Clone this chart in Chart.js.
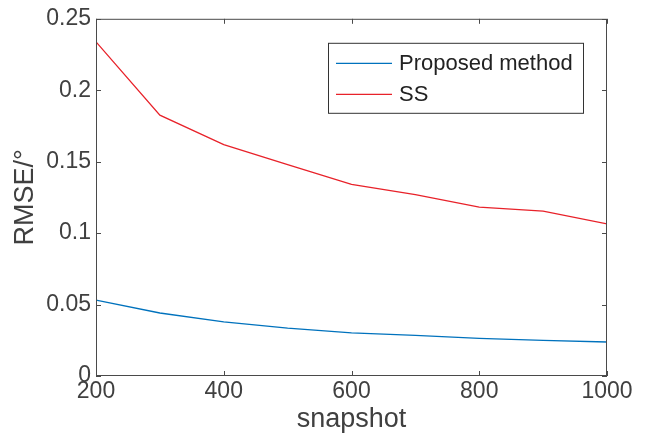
<!DOCTYPE html>
<html>
<head>
<meta charset="utf-8">
<script src="https://cdn.jsdelivr.net/npm/chart.js@4"></script>
<style>
  html, body { margin: 0; padding: 0; background: #fff; }
  #wrap { width: 660px; height: 436px; }
</style>
</head>
<body>
<div id="wrap"><canvas id="rmseChart" width="660" height="436"></canvas></div>
<script>
// values
const snapshots = [200, 300, 400, 500, 600, 700, 800, 900, 1000];
const proposed = [0.0531, 0.0441, 0.0379, 0.0335, 0.0302, 0.0284, 0.0263, 0.0249, 0.0238];
const ss = [0.2339, 0.1826, 0.1620, 0.1480, 0.1341, 0.1270, 0.1182, 0.1154, 0.1064];
const xTicks = [200, 400, 600, 800, 1000];
const yTicks = [0, 0.05, 0.1, 0.15, 0.2, 0.25];

const FONT = '"Liberation Sans", Arial, Helvetica, sans-serif';
const TEXT = '#404040';
const AXIS = '#4a4a4a';

// box around the plot with inward ticks, MATLAB style
const framePlugin = {
    id: 'frame',
    afterDraw(chart) {
        const { ctx, chartArea: a, scales } = chart;
        const len = 5;
        ctx.save();
        ctx.strokeStyle = AXIS;
        ctx.lineWidth = 1;
        ctx.strokeRect(a.left + 0.5, a.top + 0.5, a.right - a.left - 1, a.bottom - a.top - 1);
        ctx.beginPath();
        xTicks.forEach(v => {
            const x = Math.round(scales.x.getPixelForValue(v)) + 0.5;
            ctx.moveTo(x, a.bottom); ctx.lineTo(x, a.bottom - len);
            ctx.moveTo(x, a.top); ctx.lineTo(x, a.top + len);
        });
        yTicks.forEach(v => {
            const y = Math.round(scales.y.getPixelForValue(v)) + 0.5;
            ctx.moveTo(a.left, y); ctx.lineTo(a.left + len, y);
            ctx.moveTo(a.right, y); ctx.lineTo(a.right - len, y);
        });
        ctx.stroke();

        // legend box
        const bw = 255, bh = 70;
        const bx = a.right - 24 - bw, by = a.top + 24;
        ctx.fillStyle = '#fff';
        ctx.fillRect(bx, by, bw, bh);
        ctx.strokeStyle = '#333';
        ctx.strokeRect(bx + 0.5, by + 0.5, bw, bh);
        ctx.font = '22px ' + FONT;
        ctx.textBaseline = 'middle';
        ctx.textAlign = 'left';
        chart.data.datasets.forEach((ds, i) => {
            const y = by + 20 + i * 31;
            ctx.strokeStyle = ds.borderColor;
            ctx.lineWidth = 1.3;
            ctx.beginPath();
            ctx.moveTo(bx + 8, y + 0.5);
            ctx.lineTo(bx + 64, y + 0.5);
            ctx.stroke();
            ctx.fillStyle = '#222';
            ctx.fillText(ds.label, bx + 71, y + 1);
        });
        ctx.restore();
    }
};

new Chart(document.getElementById('rmseChart').getContext('2d'), {
    type: 'line',
    data: {
        labels: snapshots,
        datasets: [
            {
                label: 'Proposed method',
                data: snapshots.map((s, i) => ({ x: s, y: proposed[i] })),
                borderColor: '#0072bd',
                borderWidth: 1.3,
                pointRadius: 0,
                tension: 0,
                fill: false
            },
            {
                label: 'SS',
                data: snapshots.map((s, i) => ({ x: s, y: ss[i] })),
                borderColor: '#e8222a',
                borderWidth: 1.3,
                pointRadius: 0,
                tension: 0,
                fill: false
            }
        ]
    },
    options: {
        responsive: false,
        animation: false,
        layout: { autoPadding: false, padding: { top: 15, right: 53, left: 0, bottom: 0 } },
        plugins: {
            legend: { display: false },
            tooltip: { enabled: false }
        },
        scales: {
            x: {
                type: 'linear',
                min: 200,
                max: 1000,
                afterBuildTicks: scale => { scale.ticks = xTicks.map(v => ({ value: v })); },
                afterFit: scale => { scale.height = 60; },
                grid: { display: false, drawTicks: false },
                border: { display: false },
                ticks: {
                    color: TEXT, padding: 2, maxRotation: 0, font: { family: FONT, size: 23 },
                    callback: v => String(v)
                },
                title: {
                    display: true, text: 'snapshot', color: TEXT,
                    font: { family: FONT, size: 27 }, padding: { top: 0, bottom: 0 }
                }
            },
            y: {
                min: 0,
                max: 0.25,
                afterBuildTicks: scale => { scale.ticks = yTicks.map(v => ({ value: v })); },
                afterFit: scale => { scale.width = 96; },
                grid: { display: false, drawTicks: false },
                border: { display: false },
                ticks: {
                    color: TEXT, padding: 5, font: { family: FONT, size: 23 },
                    callback: v => String(v)
                },
                title: {
                    display: true, text: 'RMSE/°', color: TEXT,
                    font: { family: FONT, size: 27 }, padding: { top: 9, bottom: 0 }
                }
            }
        }
    },
    plugins: [framePlugin]
});
</script>
</body>
</html>
